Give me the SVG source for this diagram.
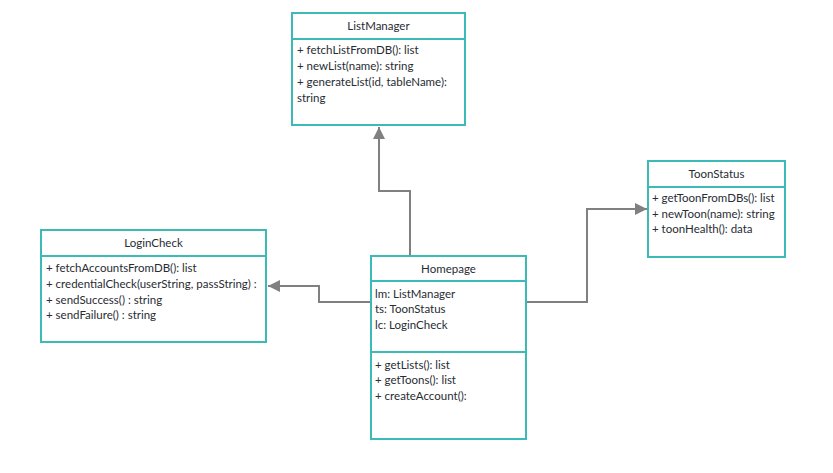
<svg xmlns="http://www.w3.org/2000/svg" width="833" height="473" viewBox="0 0 833 473">
<style>
.box{fill:#fff;stroke:#3bbab6;stroke-width:2}
.div{stroke:#3bbab6;stroke-width:2}
.t{font-family:Lato,"Open Sans",sans-serif;font-size:11.5px;fill:#282c33}
.c{text-anchor:middle}
.con{fill:none;stroke:#808080;stroke-width:2}
</style>
<defs>
<marker id="ah" markerWidth="12" markerHeight="12" refX="10" refY="5" orient="auto" markerUnits="userSpaceOnUse" viewBox="0 0 10 10">
<path d="M0,0 L10,5 L0,10 z" fill="#808080"/>
</marker>
</defs>
<g id="connectors">
<path class="con" d="M410,256 V191 H379 V127" marker-end="url(#ah)"/>
<path class="con" d="M371,302 H319 V286 H268" marker-end="url(#ah)"/>
<path class="con" d="M526,302 H587 V209 H647" marker-end="url(#ah)"/>
</g>
<g id="ListManager">
<rect class="box" x="292" y="13" width="173" height="112"/>
<line class="div" x1="292" y1="39" x2="465" y2="39"/>
<text class="t c" x="378.5" y="30">ListManager</text>
<text class="t" x="297" y="54">+ fetchListFromDB(): list</text>
<text class="t" x="297" y="70">+ newList(name): string</text>
<text class="t" x="297" y="86">+ generateList(id, tableName):</text>
<text class="t" x="297" y="102">string</text>
</g>
<g id="LoginCheck">
<rect class="box" x="41" y="230" width="225" height="112"/>
<line class="div" x1="41" y1="256" x2="266" y2="256"/>
<text class="t c" x="153.5" y="247">LoginCheck</text>
<text class="t" x="46" y="272">+ fetchAccountsFromDB(): list</text>
<text class="t" x="46" y="288">+ credentialCheck(userString, passString) :</text>
<text class="t" x="46" y="304">+ sendSuccess() : string</text>
<text class="t" x="46" y="319">+ sendFailure() : string</text>
</g>
<g id="Homepage">
<rect class="box" x="371" y="256" width="155" height="183"/>
<line class="div" x1="371" y1="281" x2="526" y2="281"/>
<line class="div" x1="371" y1="352" x2="526" y2="352"/>
<text class="t c" x="448.5" y="273">Homepage</text>
<text class="t" x="375" y="298">lm: ListManager</text>
<text class="t" x="375" y="313">ts: ToonStatus</text>
<text class="t" x="375" y="329">lc: LoginCheck</text>
<text class="t" x="375" y="369">+ getLists(): list</text>
<text class="t" x="375" y="384">+ getToons(): list</text>
<text class="t" x="375" y="400">+ createAccount():</text>
</g>
<g id="ToonStatus">
<rect class="box" x="648" y="161" width="137" height="96"/>
<line class="div" x1="648" y1="187" x2="785" y2="187"/>
<text class="t c" x="716.5" y="178">ToonStatus</text>
<text class="t" x="652" y="202">+ getToonFromDBs(): list</text>
<text class="t" x="652" y="218">+ newToon(name): string</text>
<text class="t" x="652" y="233">+ toonHealth(): data</text>
</g>
</svg>
